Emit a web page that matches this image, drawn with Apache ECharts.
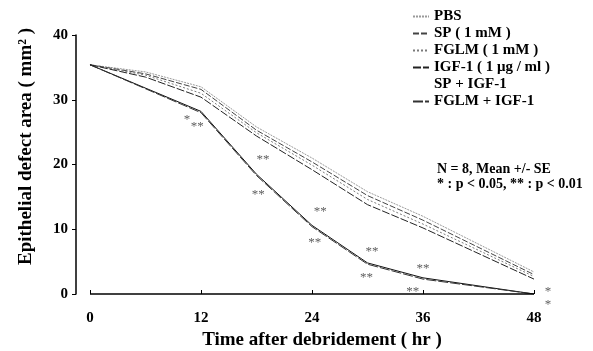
<!DOCTYPE html>
<html>
<head>
<meta charset="utf-8">
<script src="https://cdn.jsdelivr.net/npm/echarts@6/dist/echarts.min.js"></script>
<style>
  html, body { margin: 0; padding: 0; background: #fff; }
  #chart { width: 593px; height: 351px; }
</style>
</head>
<body>
<div id="chart"></div>
<script>
// time points (hr)
const hours = [0, 6, 12, 18, 24, 30, 36, 48];
const xTicks = [0, 12, 24, 36, 48];
const yTicks = [0, 10, 20, 30, 40];

// epithelial defect area (mm2)
const pbs       = [35.4, 34.3, 32.0, 25.8, 21.0, 15.8, 12.0, 3.4];
const sp        = [35.4, 34.0, 31.6, 25.3, 20.4, 15.2, 11.4, 3.0];
const fglm      = [35.4, 33.8, 31.0, 24.9, 19.9, 14.6, 10.8, 2.7];
const igf       = [35.4, 33.5, 30.4, 24.4, 19.2, 13.8, 10.2, 2.3];
const spIgf     = [35.4, 31.8, 28.2, 18.5, 10.6, 4.8, 2.5, 0];
const fglmIgf   = [35.4, 31.7, 28.0, 18.3, 10.4, 4.6, 2.3, 0];

// significance marks [hr, area, text]
const marks = [
  [10.5, 27.0, '*'], [11.6, 25.8, '**'],
  [18.7, 20.8, '**'], [18.2, 15.4, '**'],
  [24.9, 12.8, '**'], [24.3, 7.9, '**'],
  [30.5, 6.5, '**'], [29.9, 2.5, '**'],
  [36.0, 4.0, '**'], [34.9, 0.4, '**'],
  [49.5, 0.4, '*'], [49.5, -1.6, '*']
];

const chart = echarts.init(document.getElementById('chart'), null, { renderer: 'canvas' });
const serif = '"Liberation Serif", "DejaVu Serif", serif';

function pairs(vals) {
  return hours.map((h, i) => [h, vals[i]]);
}
function lineSeries(name, vals, color, type) {
  return {
    name: name,
    type: 'line',
    data: pairs(vals),
    symbol: 'none',
    itemStyle: { color: color },
    lineStyle: { color: color, width: 1, type: type }
  };
}

// baseline of the time axis runs 0..48 only (y axis stands a little apart)
const baseline = lineSeries('SP + IGF-1', spIgf, '#111', 'solid');
baseline.markLine = {
  silent: true,
  symbol: 'none',
  label: { show: false },
  lineStyle: { color: '#000', width: 1.5, type: 'solid' },
  data: [[{ coord: [xTicks[0], 0] }, { coord: [xTicks[xTicks.length - 1], 0] }]]
};

const option = {
  animation: false,
  textStyle: { fontFamily: serif },
  grid: { left: 76, right: 59, top: 35, bottom: 57, outerBoundsMode: 'none' },
  legend: {
    orient: 'vertical',
    left: 407,
    top: 4,
    itemWidth: 16,
    itemHeight: 14,
    itemGap: 2,
    itemStyle: { opacity: 0 },
    textStyle: { fontFamily: serif, fontWeight: 'bold', fontSize: 15, color: '#000' },
    data: ['PBS', 'SP ( 1 mM )', 'FGLM ( 1 mM )', 'IGF-1 ( 1 μg / ml )',
           { name: 'SP + IGF-1', lineStyle: { opacity: 0 } }, 'FGLM + IGF-1']
  },
  xAxis: {
    type: 'value',
    min: -1.5135, max: 48,
    name: 'Time after debridement ( hr )',
    nameLocation: 'middle',
    nameGap: 30,
    nameTextStyle: { fontFamily: serif, fontWeight: 'bold', fontSize: 19, color: '#000', padding: [0, 0, 0, 34] },
    axisLine: { show: false, onZero: false },
    axisTick: { show: true, inside: true, length: 4, lineStyle: { color: '#000' }, customValues: xTicks },
    axisLabel: {
      margin: 17, color: '#000', fontFamily: serif, fontWeight: 'bold', fontSize: 15,
      customValues: xTicks
    },
    splitLine: { show: false }
  },
  yAxis: {
    type: 'value',
    min: 0, max: 40, interval: 10,
    name: 'Epithelial defect area ( mm² )',
    nameLocation: 'middle',
    nameGap: 40,
    nameTextStyle: { fontFamily: serif, fontWeight: 'bold', fontSize: 19, color: '#000', padding: [0, 0, 0, 36] },
    axisLine: { show: true, onZero: false, lineStyle: { color: '#000', width: 1.5 } },
    axisTick: { show: true, length: 4, lineStyle: { color: '#000' } },
    axisLabel: {
      margin: 8, color: '#000', fontFamily: serif, fontWeight: 'bold', fontSize: 15,
      customValues: yTicks
    },
    splitLine: { show: false }
  },
  series: [
    lineSeries('PBS', pbs, '#9a9a9a', [2, 1]),
    lineSeries('SP ( 1 mM )', sp, '#444', [6, 2]),
    lineSeries('FGLM ( 1 mM )', fglm, '#7a7a7a', [2, 2]),
    lineSeries('IGF-1 ( 1 μg / ml )', igf, '#222', [8, 2]),
    baseline,
    lineSeries('FGLM + IGF-1', fglmIgf, '#333', [10, 2]),
    {
      type: 'scatter',
      data: marks.map(m => ({ value: [m[0], m[1]], label: { formatter: m[2] } })),
      symbolSize: 0,
      clip: false,
      silent: true,
      label: {
        show: true,
        position: 'inside',
        color: '#333',
        fontFamily: serif,
        fontSize: 13
      }
    }
  ],
  graphic: [
    {
      type: 'text', left: 437, top: 162,
      style: { text: 'N = 8, Mean +/- SE', font: 'bold 14px ' + serif, fill: '#000' }
    },
    {
      type: 'text', left: 437, top: 177,
      style: { text: '* : p < 0.05, ** : p < 0.01', font: 'bold 14px ' + serif, fill: '#000' }
    }
  ]
};

chart.setOption(option);
</script>
</body>
</html>
